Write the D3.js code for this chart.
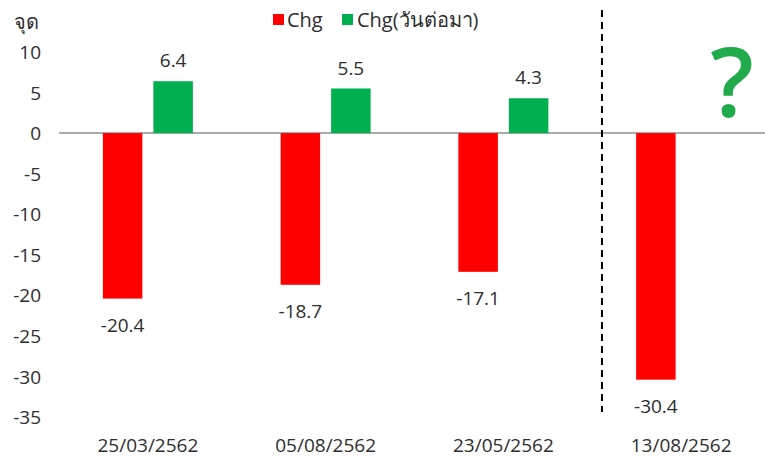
<!DOCTYPE html>
<html>
<head>
<meta charset="utf-8">
<script src="https://cdn.jsdelivr.net/npm/d3@7"></script>
<style>
  html, body { margin: 0; padding: 0; background: #fff; }
  svg text { font-family: "Open Sans", "Noto Sans", sans-serif; fill: #2e2e2e; }
</style>
</head>
<body>
<svg id="chart" width="765" height="457"></svg>
<script>
// Chart data
const categories = ["25/03/2562", "05/08/2562", "23/05/2562", "13/08/2562"];
const chgValues = [-20.4, -18.7, -17.1, -30.4];
const nextDayValues = [6.4, 5.5, 4.3, null];
const yTicks = [10, 5, 0, -5, -10, -15, -20, -25, -30, -35];
const seriesNames = ["Chg", "Chg(วันต่อมา)"];
const seriesColors = ["#ff0000", "#00b050"];

const svg = d3.select("#chart");
const plot = { left: 59, right: 770, top: 52, bottom: 417, lineEnd: 765 };

const x = d3.scaleBand().domain(categories).range([plot.left, plot.right]);
const y = d3.scaleLinear().domain([-35, 10]).range([plot.bottom, plot.top]);

const barW = 39.5;
const innerGap = 11;

// y tick labels (no axis line), plain hyphen for negatives
const yAxis = d3.axisLeft(y).tickValues(yTicks).tickSize(0).tickPadding(0)
  .tickFormat(d => String(d));
const gy = svg.append("g").attr("transform", `translate(${41},0)`).call(yAxis);
gy.select(".domain").remove();
gy.selectAll("text").attr("font-size", 19).attr("font-family", "Open Sans, sans-serif")
  .attr("fill", "#2e2e2e").attr("dy", "0.35em");

// unit label
svg.append("text").attr("x", 14).attr("y", 29).attr("font-size", 20).text("จุด");

// zero line
svg.append("line")
  .attr("x1", plot.left).attr("x2", plot.lineEnd)
  .attr("y1", y(0)).attr("y2", y(0))
  .attr("stroke", "#8c8c8c").attr("stroke-width", 1.5);

// red bars
const cx = d => x(d) + x.bandwidth() / 2;
const chgData = categories.map((c, i) => ({ c, v: chgValues[i] }));
svg.selectAll("rect.chg").data(chgData)
  .join("rect").attr("class", "chg")
  .attr("x", d => cx(d.c) - innerGap / 2 - barW)
  .attr("width", barW)
  .attr("y", d => y(Math.max(0, d.v)))
  .attr("height", d => Math.abs(y(d.v) - y(0)))
  .attr("fill", seriesColors[0]);

// green bars
const greenData = categories.map((c, i) => ({ c, v: nextDayValues[i] })).filter(d => d.v !== null);
svg.selectAll("rect.next").data(greenData)
  .join("rect").attr("class", "next")
  .attr("x", d => cx(d.c) + innerGap / 2)
  .attr("width", barW)
  .attr("y", d => y(Math.max(0, d.v)))
  .attr("height", d => Math.abs(y(d.v) - y(0)))
  .attr("fill", seriesColors[1]);

// value labels
svg.selectAll("text.vchg").data(chgData)
  .join("text").attr("class", "vchg")
  .attr("x", d => cx(d.c) - innerGap / 2 - barW / 2)
  .attr("y", d => y(d.v) + 33)
  .attr("text-anchor", "middle").attr("font-size", 19)
  .text(d => d.v.toFixed(1));
svg.selectAll("text.vnext").data(greenData)
  .join("text").attr("class", "vnext")
  .attr("x", d => cx(d.c) + innerGap / 2 + barW / 2)
  .attr("y", d => y(d.v) - 14)
  .attr("text-anchor", "middle").attr("font-size", 19)
  .text(d => d.v.toFixed(1));

// category axis labels
const xAxis = d3.axisBottom(x).tickSize(0).tickPadding(0);
const gx = svg.append("g").attr("transform", `translate(0,${452})`).call(xAxis);
gx.select(".domain").remove();
gx.selectAll("text").attr("font-size", 19).attr("font-family", "Open Sans, sans-serif")
  .attr("fill", "#2e2e2e").attr("dy", "0");

// separator before the latest date
svg.append("line")
  .attr("x1", 602).attr("x2", 602).attr("y1", 10).attr("y2", 412)
  .attr("stroke", "#000").attr("stroke-width", 2).attr("stroke-dasharray", "7,5");

// question mark for the unknown next-day change
svg.append("text").attr("x", 732).attr("y", 117).attr("text-anchor", "middle")
  .attr("font-size", 96).attr("font-weight", 600).style("fill", "#22ab4c").text("?");

// legend
const legend = svg.append("g");
const legendItems = [{ x: 273, tx: 287 }, { x: 342, tx: 357 }];
seriesNames.forEach((name, i) => {
  legend.append("rect").attr("x", legendItems[i].x).attr("y", 14)
    .attr("width", 11).attr("height", 11).attr("fill", seriesColors[i]);
  legend.append("text").attr("x", legendItems[i].tx).attr("y", 27)
    .attr("font-size", 20).text(name);
});
</script>
</body>
</html>
